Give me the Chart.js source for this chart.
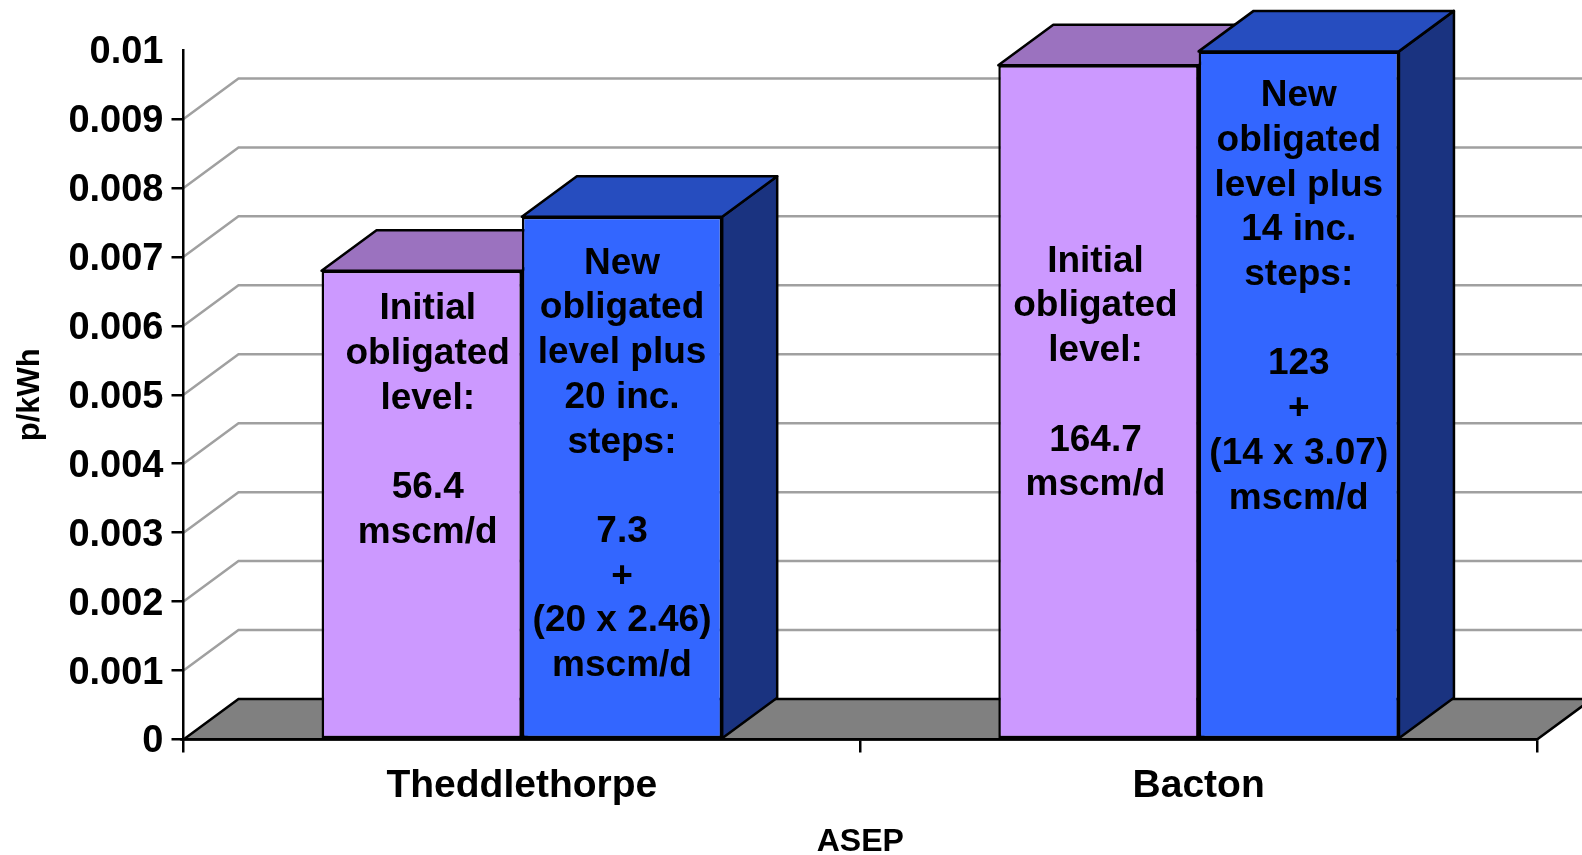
<!DOCTYPE html>
<html>
<head>
<meta charset="utf-8">
<title>ASEP p/kWh</title>
<style>
  html, body { margin: 0; padding: 0; background: #fff; overflow: hidden; }
  #box { position: relative; width: 1582px; height: 855px; }
</style>
<script src="https://cdn.jsdelivr.net/npm/chart.js@4"></script>
</head>
<body>
<div id="box"><canvas id="chart"></canvas></div>
<script>
/* ---------- data ---------- */
const categories = ["Theddlethorpe", "Bacton"];
const initialValues = [0.0068, 0.00978];
const newValues = [0.00758, 0.00998];
const yTickLabels = ["0", "0.001", "0.002", "0.003", "0.004", "0.005", "0.006", "0.007", "0.008", "0.009", "0.01"];
const initialNotes = [
  ["Initial", "obligated", "level:", "", "56.4", "mscm/d"],
  ["Initial", "obligated", "level:", "", "164.7", "mscm/d"],
];
const newNotes = [
  ["New", "obligated", "level plus", "20 inc.", "steps:", "", "7.3", "+", "(20 x 2.46)", "mscm/d"],
  ["New", "obligated", "level plus", "14 inc.", "steps:", "", "123", "+", "(14 x 3.07)", "mscm/d"],
];

/* ---------- look ---------- */
const INK = "#000000", GRID = "#a0a0a0", FLOOR = "#808080";
const PURPLE = "#cc99ff", PURPLE_TOP = "#9b72bf";
const BLUE = "#3366ff", BLUE_TOP = "#264dbf", BLUE_SIDE = "#1a3380";
const FONT = '"Liberation Sans", Arial, sans-serif';
const DEPTH_X = 55, DEPTH_Y = 40.5;
const LINE = 2.5;
// first-line centre of each note, px, and nudge from bar centre
const NOTE_TOP = [[309, 261.5], [263.5, 96]];
const NOTE_NUDGE = [[6, -3], [0, 0]];
const NOTE_LINE = 44.7;

function poly(ctx, pts, fill) {
  ctx.beginPath();
  pts.forEach((p, i) => (i ? ctx.lineTo(p[0], p[1]) : ctx.moveTo(p[0], p[1])));
  ctx.closePath();
  ctx.fillStyle = fill;
  ctx.fill();
  ctx.stroke();
}

/* wall grid and floor, behind the axes */
const wall = {
  id: "wall",
  beforeDraw(chart) {
    const { ctx, chartArea: a, scales } = chart;
    ctx.save();
    ctx.lineWidth = LINE;
    ctx.strokeStyle = GRID;
    scales.y.ticks.forEach((t, i) => {
      if (i === 0 || i === scales.y.ticks.length - 1) return;
      const y = scales.y.getPixelForValue(t.value);
      ctx.beginPath();
      ctx.moveTo(a.left, y);
      ctx.lineTo(a.left + DEPTH_X, y - DEPTH_Y);
      ctx.lineTo(a.right + DEPTH_X, y - DEPTH_Y);
      ctx.stroke();
    });
    ctx.strokeStyle = INK;
    poly(ctx, [
      [a.left, a.bottom],
      [a.left + DEPTH_X, a.bottom - DEPTH_Y],
      [a.right + DEPTH_X, a.bottom - DEPTH_Y],
      [a.right, a.bottom],
    ], FLOOR);
    ctx.restore();
  },
};

/* top and side faces of the bars, front faces come from Chart.js */
const faces = {
  id: "faces",
  beforeDatasetsDraw(chart) {
    const { ctx } = chart;
    const tops = [PURPLE_TOP, BLUE_TOP], sides = [PURPLE_TOP, BLUE_SIDE];
    ctx.save();
    ctx.lineWidth = LINE;
    ctx.lineJoin = "round";
    ctx.strokeStyle = INK;
    chart.data.datasets.forEach((ds, d) => {
      chart.getDatasetMeta(d).data.forEach((bar) => {
        const l = bar.x - bar.width / 2, r = bar.x + bar.width / 2;
        poly(ctx, [[r, bar.y], [r + DEPTH_X, bar.y - DEPTH_Y], [r + DEPTH_X, bar.base - DEPTH_Y], [r, bar.base]], sides[d]);
        poly(ctx, [[l, bar.y], [l + DEPTH_X, bar.y - DEPTH_Y], [r + DEPTH_X, bar.y - DEPTH_Y], [r, bar.y]], tops[d]);
      });
    });
    ctx.restore();
  },
  afterDatasetsDraw(chart) {
    const { ctx } = chart;
    const notes = [initialNotes, newNotes];
    ctx.save();
    ctx.font = "bold 37px " + FONT;
    ctx.fillStyle = INK;
    ctx.textAlign = "center";
    ctx.textBaseline = "middle";
    chart.data.datasets.forEach((ds, d) => {
      chart.getDatasetMeta(d).data.forEach((bar, i) => {
        notes[d][i].forEach((line, n) => {
          ctx.fillText(line, bar.x + NOTE_NUDGE[d][i], NOTE_TOP[d][i] + n * NOTE_LINE);
        });
      });
    });
    ctx.restore();
  },
};

function barSet(label, data, color) {
  return {
    label,
    data,
    backgroundColor: color,
    borderColor: INK,
    borderWidth: LINE,
    borderSkipped: false,
    categoryPercentage: 0.592,
    barPercentage: 1,
  };
}

new Chart(document.getElementById("chart"), {
  type: "bar",
  data: {
    labels: categories,
    datasets: [
      barSet("Initial obligated level", initialValues, PURPLE),
      barSet("New obligated level plus inc. steps", newValues, BLUE),
    ],
  },
  plugins: [wall, faces],
  options: {
    responsive: true,
    maintainAspectRatio: false,
    animation: false,
    layout: { padding: { top: 50, right: 45, left: 0, bottom: 0 } },
    plugins: { legend: { display: false }, tooltip: { enabled: false } },
    scales: {
      x: {
        afterFit(s) { s.height = 115.5; },
        border: { color: INK, width: LINE },
        grid: { drawOnChartArea: false, color: INK, lineWidth: LINE, tickLength: 13, offset: true },
        ticks: { color: INK, padding: 10, maxRotation: 0, font: { family: FONT, size: 39, weight: "bold" } },
        title: { display: true, text: "ASEP", color: INK, padding: { top: 0, bottom: -6 }, font: { family: FONT, size: 32, weight: "bold" } },
      },
      y: {
        min: 0,
        max: 0.01,
        afterFit(s) { s.width = 183.5; },
        border: { color: INK, width: LINE },
        grid: {
          drawOnChartArea: false,
          lineWidth: LINE,
          tickLength: 12,
          color: (c) => (c.index === yTickLabels.length - 1 ? "rgba(0,0,0,0)" : INK),
        },
        ticks: {
          stepSize: 0.001,
          color: INK,
          padding: 8,
          labelOffset: 2.5,
          font: { family: FONT, size: 38, weight: "bold" },
          callback: (v, i) => yTickLabels[i],
        },
        title: { display: true, text: "p/kWh", color: INK, padding: { top: 12, bottom: 0 }, font: { family: FONT, size: 31, weight: "bold" } },
      },
    },
  },
});
</script>
</body>
</html>
